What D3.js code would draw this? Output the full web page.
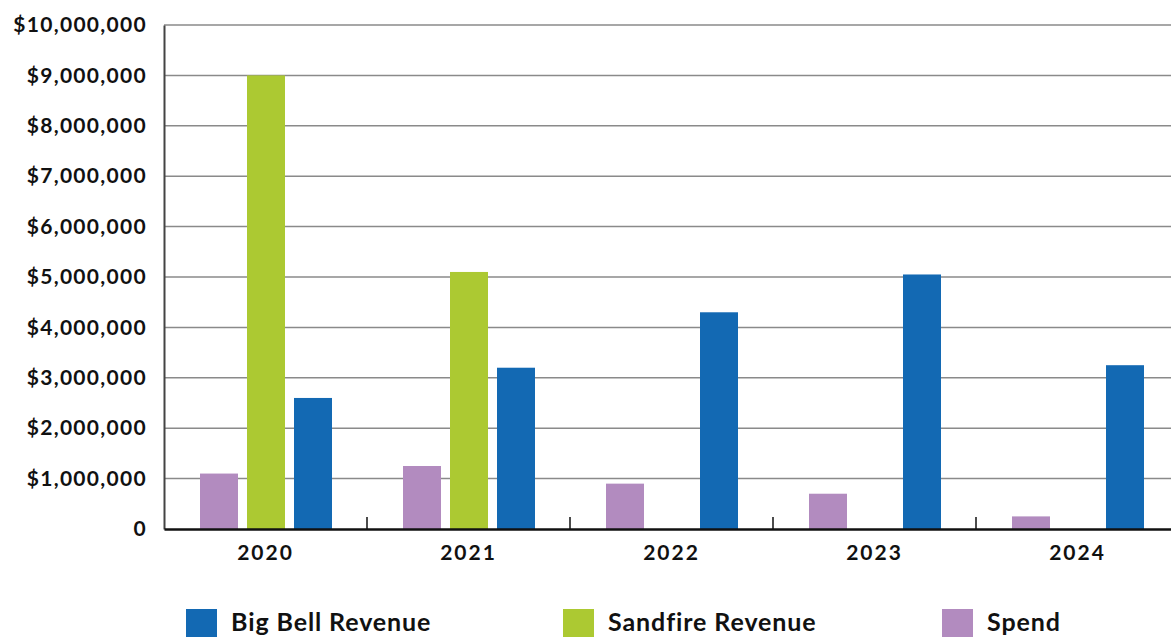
<!DOCTYPE html>
<html>
<head>
<meta charset="utf-8">
<script src="https://cdn.jsdelivr.net/npm/d3@7"></script>
<style>
body { margin: 0; background: #fff; }
svg { display: block; font-family: Lato, "Open Sans", sans-serif; font-weight: 700; }
</style>
</head>
<body>
<svg id="svg"></svg>
<script>
var width = 1171, height = 637;

var years = ["2020", "2021", "2022", "2023", "2024"];
var seriesNames = ["Spend", "Sandfire Revenue", "Big Bell Revenue"];
var spend = [1100000, 1250000, 900000, 700000, 250000];
var sandfire = [9000000, 5100000, 0, 0, 0];
var bigBell = [2600000, 3200000, 4300000, 5050000, 3250000];
var yTicks = [0, 1000000, 2000000, 3000000, 4000000, 5000000, 6000000, 7000000, 8000000, 9000000, 10000000];
var legendOrder = ["Big Bell Revenue", "Sandfire Revenue", "Spend"];

var colors = {
	"Big Bell Revenue": "#1369b3",
	"Sandfire Revenue": "#acc932",
	"Spend": "#b28bbf"
};

var svg = d3.select("#svg")
	.attr("width", width)
	.attr("height", height);

var x = d3.scaleBand()
	.domain(years)
	.range([164, 1179]);

var inner = d3.scaleBand()
	.domain(seriesNames)
	.range([36, 36 + 132])
	.paddingInner(9 / 47);

var y = d3.scaleLinear()
	.domain([0, 10000000])
	.range([529, 25]);

// gridlines
svg.append("g")
	.selectAll("line")
	.data(yTicks.filter(function(d) { return d > 0; }))
	.enter()
	.append("line")
	.attr("x1", 164)
	.attr("x2", width)
	.attr("y1", function(d) { return y(d); })
	.attr("y2", function(d) { return y(d); })
	.attr("stroke", "#8a8a8a")
	.attr("stroke-width", 1.5);

// bars
var values = { "Spend": spend, "Sandfire Revenue": sandfire, "Big Bell Revenue": bigBell };
seriesNames.forEach(function(s) {
	svg.append("g")
		.selectAll("rect")
		.data(values[s])
		.enter()
		.append("rect")
		.attr("x", function(d, i) { return x(years[i]) + inner(s); })
		.attr("y", function(d) { return y(d); })
		.attr("width", inner.bandwidth())
		.attr("height", function(d) { return y(0) - y(d); })
		.attr("fill", colors[s]);
});

// y axis
var yAxis = d3.axisLeft(y)
	.tickValues(yTicks)
	.tickSize(0)
	.tickPadding(17)
	.tickFormat(function(d) { return d === 0 ? "0" : "$" + d3.format(",")(d); });

var gy = svg.append("g")
	.attr("transform", "translate(164,0)")
	.call(yAxis);
gy.select(".domain").attr("stroke", "#444").attr("stroke-width", 2);
gy.selectAll("text")
	.attr("font-size", "21px")
	.attr("font-weight", 700)
	.attr("letter-spacing", "1.3px")
	.attr("font-family", "Lato, sans-serif")
	.attr("fill", "#111");

// x axis
var xAxis = d3.axisBottom(x).tickSize(0).tickPadding(16);
var gx = svg.append("g")
	.attr("transform", "translate(0,529)")
	.call(xAxis);
gx.select(".domain").attr("stroke", "#111").attr("stroke-width", 2.5);
gx.selectAll("text")
	.attr("font-size", "21px")
	.attr("font-weight", 700)
	.attr("letter-spacing", "2px")
	.attr("font-family", "Lato, sans-serif")
	.attr("fill", "#111");

// separator ticks between categories
svg.append("g")
	.selectAll("line")
	.data(years.slice(1))
	.enter()
	.append("line")
	.attr("x1", function(d) { return x(d); })
	.attr("x2", function(d) { return x(d); })
	.attr("y1", 517)
	.attr("y2", 529)
	.attr("stroke", "#111")
	.attr("stroke-width", 1.5);

// legend
var legendX = [186, 563, 942];
var legend = svg.append("g").attr("class", "legend");
legend.selectAll("rect")
	.data(legendOrder)
	.enter()
	.append("rect")
	.attr("x", function(d, i) { return legendX[i]; })
	.attr("y", 609)
	.attr("width", 31)
	.attr("height", 31)
	.attr("fill", function(d) { return colors[d]; });
legend.selectAll("text")
	.data(legendOrder)
	.enter()
	.append("text")
	.attr("x", function(d, i) { return legendX[i] + 45; })
	.attr("y", 631)
	.attr("font-size", "25px")
	.attr("font-weight", 700)
	.attr("letter-spacing", "0.9px")
	.attr("fill", "#111")
	.text(function(d) { return d; });
</script>
</body>
</html>
